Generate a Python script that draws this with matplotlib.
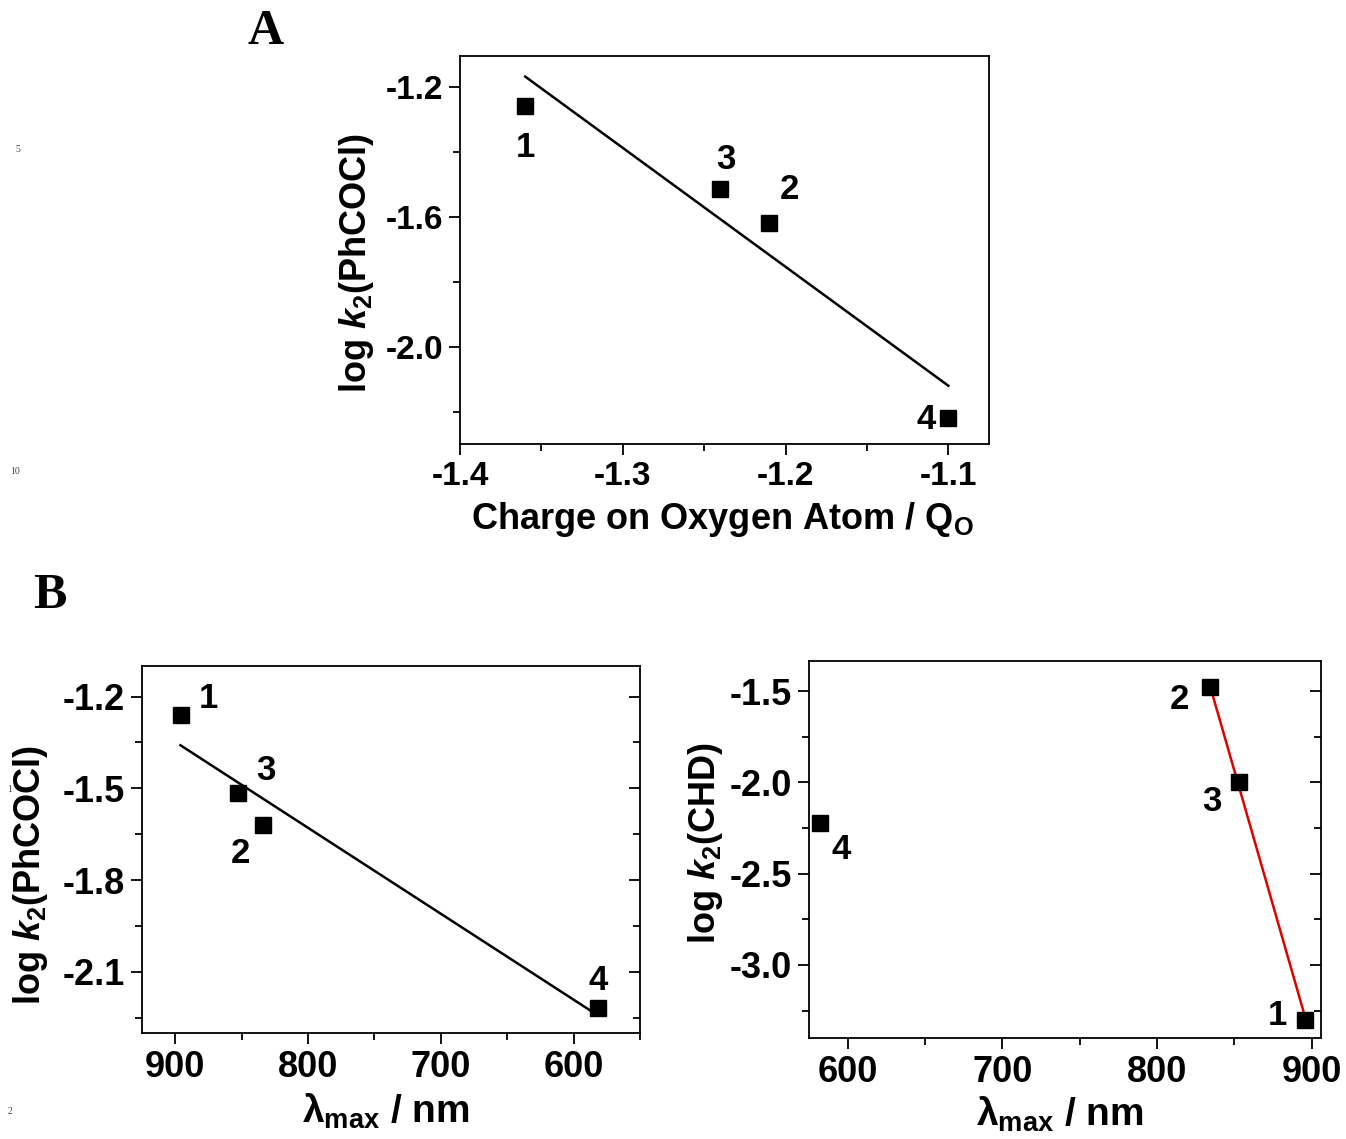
import numpy as np
import matplotlib
matplotlib.use("Agg")
import matplotlib.pyplot as plt
from matplotlib.ticker import MultipleLocator, FormatStrFormatter

plt.rcParams['font.family'] = ['Liberation Sans', 'DejaVu Sans']
plt.rcParams['font.weight'] = 'bold'
plt.rcParams['axes.unicode_minus'] = False
plt.rcParams['mathtext.fontset'] = 'custom'
plt.rcParams['mathtext.rm'] = 'Liberation Sans:bold'
plt.rcParams['mathtext.bf'] = 'Liberation Sans:bold'
plt.rcParams['mathtext.it'] = 'Liberation Sans:italic:bold'

# complexes 1-4
labels = ['1', '2', '3', '4']
charge_O = [-1.36, -1.21, -1.24, -1.10]          # Q_O
lambda_max = [896, 834, 853, 582]                 # nm
logk_phcocl = [-1.26, -1.62, -1.515, -2.22]
logk_chd = [-3.30, -1.48, -2.00, -2.22]

ylab_phcocl = r"log $\mathit{k}_{\mathrm{2}}$(PhCOCl)"
ylab_chd = r"log $\mathit{k}_{\mathrm{2}}$(CHD)"
xlab_lambda = r"λ$_{\mathrm{max}}$ / nm"


def fit_line(ax, x, y, color):
    x = np.asarray(x, float)
    y = np.asarray(y, float)
    p = np.polyfit(x, y, 1)
    xx = np.array([x.min(), x.max()])
    ax.plot(xx, np.polyval(p, xx), color=color, lw=1.8, zorder=2)


def points(ax, x, y, offsets, fs=25):
    ax.plot(x, y, 's', color='black', ms=11, zorder=3)
    for lab, xi, yi, off in zip(labels, x, y, offsets):
        ax.annotate(lab, (xi, yi), xytext=off, textcoords='offset pixels',
                    ha='center', va='center', fontsize=fs, fontweight='bold')


def style(ax):
    for s in ax.spines.values():
        s.set_linewidth(1.3)
    ax.tick_params(which='both', direction='out', width=1.3, top=False, right=False)
    ax.tick_params(which='major', length=8, pad=4)
    ax.tick_params(which='minor', length=5)


fig = plt.figure(figsize=(13.46, 11.39), dpi=100)

# ---- A: charge on oxygen ----
axA = fig.add_axes([0.3418, 0.6102, 0.393, 0.3407])
fit_line(axA, charge_O, logk_phcocl, 'black')
points(axA, charge_O, logk_phcocl, [(0, -41), (20, 34), (5, 30), (-22, -1)])
axA.set_xlim(-1.4, -1.075)
axA.set_ylim(-2.3, -1.105)
axA.xaxis.set_major_locator(MultipleLocator(0.1))
axA.xaxis.set_minor_locator(MultipleLocator(0.05))
axA.yaxis.set_major_locator(MultipleLocator(0.4))
axA.yaxis.set_minor_locator(MultipleLocator(0.2))
axA.xaxis.set_major_formatter(FormatStrFormatter('%.1f'))
axA.yaxis.set_major_formatter(FormatStrFormatter('%.1f'))
style(axA)
axA.tick_params(labelsize=24)
axA.set_xlabel(r"Charge on Oxygen Atom / Q$_{\mathrm{O}}$", fontsize=26, fontweight='bold')
axA.set_ylabel(ylab_phcocl, fontsize=26, fontweight='bold')
axA.xaxis.set_label_coords(0.495, -0.145)
axA.yaxis.set_label_coords(-0.158, 0.466)

# ---- B left: lambda_max vs log k2(PhCOCl) ----
axB1 = fig.add_axes([0.1055, 0.0931, 0.370, 0.3222])
fit_line(axB1, lambda_max, logk_phcocl, 'black')
points(axB1, lambda_max, logk_phcocl, [(28, 16), (-22, -28), (28, 22), (1, 28)])
axB1.set_xlim(925, 550)
axB1.set_ylim(-2.3, -1.1)
axB1.xaxis.set_major_locator(MultipleLocator(100))
axB1.xaxis.set_minor_locator(MultipleLocator(50))
axB1.yaxis.set_major_locator(MultipleLocator(0.3))
axB1.yaxis.set_minor_locator(MultipleLocator(0.15))
axB1.yaxis.set_major_formatter(FormatStrFormatter('%.1f'))
style(axB1)
axB1.set_xlabel(xlab_lambda, fontsize=28, fontweight='bold')
axB1.set_ylabel(ylab_phcocl, fontsize=26, fontweight='bold')
axB1.xaxis.set_label_coords(0.49, -0.16)
axB1.yaxis.set_label_coords(-0.185, 0.43)

# ---- B right: lambda_max vs log k2(CHD), fit over 1-3 ----
axB2 = fig.add_axes([0.601, 0.0887, 0.3804, 0.331])
fit_line(axB2, lambda_max[:3], logk_chd[:3], '#e00000')
points(axB2, lambda_max, logk_chd, [(-28, 4), (-30, -12), (-27, -19), (21, -27)])
axB2.set_xlim(575, 906)
axB2.set_ylim(-3.4, -1.335)
axB2.xaxis.set_major_locator(MultipleLocator(100))
axB2.xaxis.set_minor_locator(MultipleLocator(50))
axB2.yaxis.set_major_locator(MultipleLocator(0.5))
axB2.yaxis.set_minor_locator(MultipleLocator(0.25))
axB2.yaxis.set_major_formatter(FormatStrFormatter('%.1f'))
style(axB2)
axB2.set_xlabel(xlab_lambda, fontsize=28, fontweight='bold')
axB2.set_ylabel(ylab_chd, fontsize=26, fontweight='bold')
axB2.xaxis.set_label_coords(0.49, -0.15)
axB2.yaxis.set_label_coords(-0.164, 0.517)

# right-hand ticks point into the box on the B panels
for ax in (axB1, axB2):
    ax.yaxis.set_tick_params(which='both', right=True, labelright=False)
    for tl in ax.yaxis.get_majorticklines()[1::2] + ax.yaxis.get_minorticklines()[1::2]:
        tl.set_marker(matplotlib.lines.TICKLEFT)
    ax.tick_params(axis='both', labelsize=26)

# panel letters
fig.text(266 / 1346, 1 - 32 / 1139, 'A', family='Liberation Serif', fontsize=36,
         fontweight='bold', ha='center', va='center')
fig.text(50 / 1346, 1 - 596 / 1139, 'B', family='Liberation Serif', fontsize=36,
         fontweight='bold', ha='center', va='center')

# manuscript line numbers in the margin
for txt, px, py in [('5', 18, 150), ('10', 15, 471), ('1', 10, 790), ('2', 10, 1112)]:
    fig.text(px / 1346, 1 - py / 1139, txt, family='Liberation Serif', fontsize=7,
             fontweight='normal', color='#444444', ha='center', va='center')

fig.savefig('out.png', dpi=100)
